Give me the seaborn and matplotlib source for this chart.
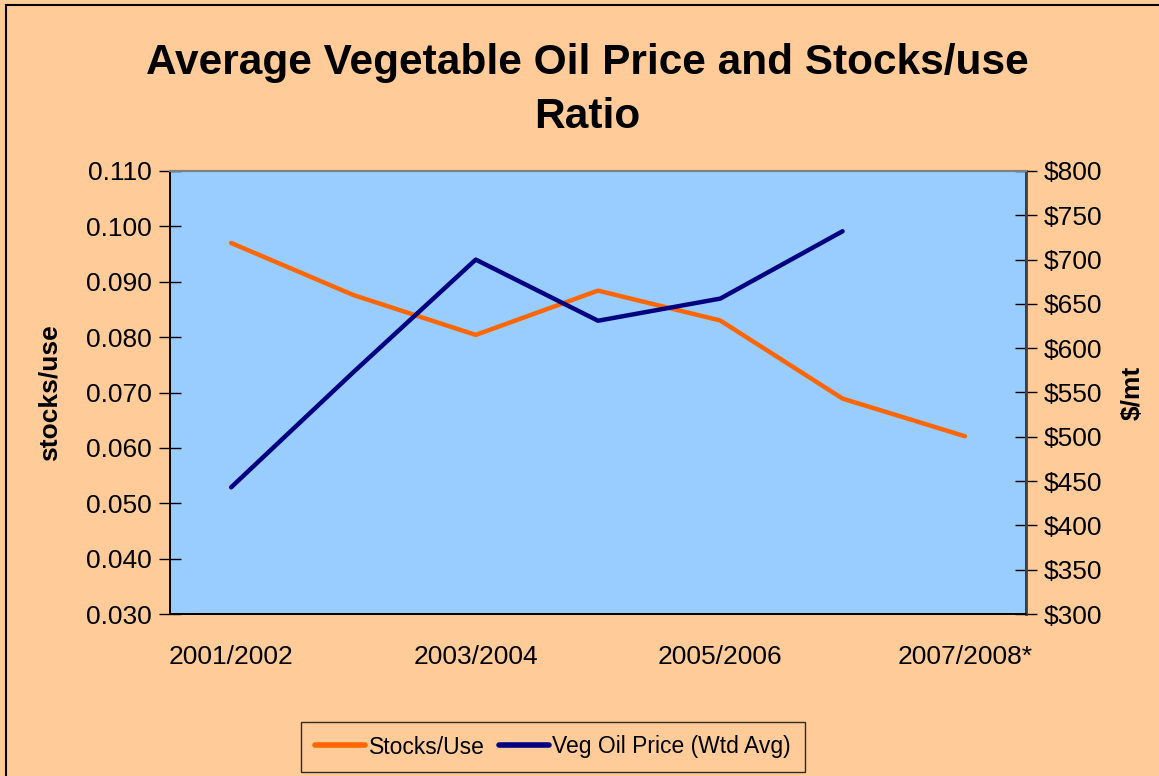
import numpy as np
import pandas as pd
import matplotlib
matplotlib.use("Agg")
import matplotlib.pyplot as plt
import seaborn as sns
from matplotlib.lines import Line2D
from matplotlib.patches import Rectangle
from matplotlib.ticker import FixedLocator, FuncFormatter

categories = ["2001/2002", "2002/2003", "2003/2004", "2004/2005", "2005/2006", "2006/2007", "2007/2008*"]
stocks_use = [0.097, 0.0876, 0.0804, 0.0884, 0.0830, 0.0689, 0.0621]
veg_price = [443, 573, 700, 631, 656, 732, np.nan]
shown_labels = ["2001/2002", "2003/2004", "2005/2006", "2007/2008*"]

df = pd.DataFrame({"pos": np.arange(len(categories)), "category": categories,
                   "stocks": stocks_use, "price": veg_price})

sns.set_theme(style="white")
plt.rcParams["font.family"] = ["Liberation Sans", "DejaVu Sans"]
plt.rcParams["text.color"] = "black"
plt.rcParams["axes.labelcolor"] = "black"
plt.rcParams["xtick.color"] = "black"
plt.rcParams["ytick.color"] = "black"

PEACH = "#FFCC99"
fig = plt.figure(figsize=(11.59, 7.76), dpi=100, facecolor=PEACH)
ax = fig.add_axes([170/1159, 1-614/776, (1026-170)/1159, (614-171)/776])
ax.set_facecolor("#99CCFF")

sns.lineplot(data=df, x="pos", y="stocks", ax=ax, color="#FF6600", linewidth=3.2,
             sort=False, estimator=None, legend=False)
ax2 = ax.twinx()
sns.lineplot(data=df.dropna(), x="pos", y="price", ax=ax2, color="#000080", linewidth=3.2,
             sort=False, estimator=None, legend=False)

ax.set_xlim(-0.5, len(categories) - 0.5)
ax.set_ylim(0.030, 0.110)
ax2.set_ylim(300, 800)

ax.set_yticks(np.arange(0.030, 0.1101, 0.010))
ax.yaxis.set_major_formatter(FuncFormatter(lambda v, p: f"{v:.3f}"))
ax2.set_yticks(np.arange(300, 801, 50))
ax2.yaxis.set_major_formatter(FuncFormatter(lambda v, p: f"${v:.0f}"))

# boundaries as major ticks, labels as minor at every other category
ax.xaxis.set_major_locator(FixedLocator(np.arange(-0.5, len(categories), 1.0)))
ax.set_xticklabels([])
label_pos = [categories.index(c) for c in shown_labels]
ax.set_xticks(label_pos, minor=True)
ax.set_xticklabels(shown_labels, minor=True)
ax.tick_params(axis="x", which="minor", length=0, pad=22, labelsize=19)
ax.tick_params(axis="x", which="major", direction="inout", length=15, width=1, color="black")
ax.tick_params(axis="y", direction="inout", length=16, width=1, color="black", labelsize=19, pad=5)
ax2.tick_params(axis="y", direction="inout", length=16, width=1, color="black", labelsize=19, pad=5)

ax.set_xlabel("")
ax.set_ylabel("stocks/use", fontsize=19, fontweight="bold", labelpad=18)
ax2.set_ylabel("$/mt", fontsize=19, fontweight="bold", labelpad=13)

for a in (ax, ax2):
    for side in ("left", "bottom", "right"):
        a.spines[side].set_color("black")
        a.spines[side].set_linewidth(1.2)
    a.spines["top"].set_color("#808080")
    a.spines["top"].set_linewidth(1.5)
ax2.spines["right"].set_color("#404040")
ax2.spines["right"].set_linewidth(2)

fig.text(587/1159, 1-90/776, "Average Vegetable Oil Price and Stocks/use\nRatio",
         ha="center", va="center", fontsize=30.5, fontweight="bold", linespacing=1.45)

handles = [Line2D([], [], color="#FF6600", linewidth=4, solid_capstyle="round"),
           Line2D([], [], color="#000080", linewidth=4, solid_capstyle="round")]
leg = fig.legend(handles, ["Stocks/Use", "Veg Oil Price (Wtd Avg)"], loc="center",
                 bbox_to_anchor=(553/1159, 1-747/776), ncol=2, fontsize=16.5,
                 frameon=True, fancybox=False, edgecolor="black", facecolor=PEACH,
                 handlelength=2.2, handletextpad=0.15, columnspacing=0.6,
                 borderpad=0.6, borderaxespad=0)
leg.get_frame().set_linewidth(1)

fig.patches.append(Rectangle((6/1159, -0.01), 1.2, 1 - 5/776 + 0.01, transform=fig.transFigure,
                             fill=False, edgecolor="black", linewidth=1.5))

fig.savefig("out.png", dpi=100, facecolor=PEACH)
